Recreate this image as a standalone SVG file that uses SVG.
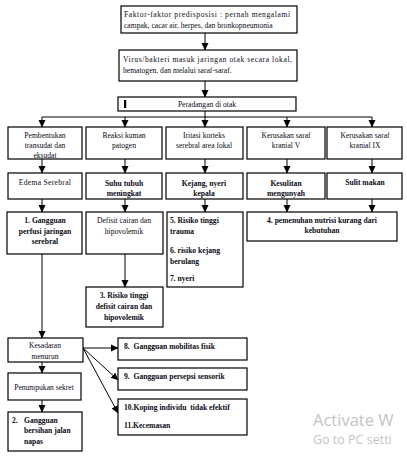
<svg xmlns="http://www.w3.org/2000/svg" width="407" height="459" viewBox="0 0 407 459">
<defs>
<marker id="ah" markerUnits="userSpaceOnUse" markerWidth="8" markerHeight="8" viewBox="0 0 8 8" refX="7" refY="4" orient="auto">
<path d="M0,0.5 L7.5,4 L0,7.5 Z" fill="#000"/>
</marker>
</defs>
<style>
.b{fill:#fff;stroke:#000;stroke-width:1.2}
.t{font-family:"Liberation Serif","Times New Roman",serif;font-size:7.6px;fill:#0a0a14}
.c{text-anchor:middle}
.w{font-weight:bold}
.k{stroke:#000;stroke-width:1;fill:none}
.a{stroke:#000;stroke-width:1;fill:none;marker-end:url(#ah)}
.wm{font-family:"Open Sans","Noto Sans",sans-serif;fill:#c4c4c4}
</style>
<rect width="407" height="459" fill="#fff"/>

<g id="connectors">
<line class="a" x1="205" y1="33" x2="205" y2="50"/>
<line class="a" x1="205" y1="81" x2="205" y2="97"/>
<line class="k" x1="205" y1="111" x2="205" y2="117"/>
<line class="k" x1="42" y1="117" x2="372" y2="117"/>
<line class="a" x1="42" y1="117" x2="42" y2="127"/>
<line class="a" x1="125" y1="117" x2="125" y2="127"/>
<line class="a" x1="205" y1="117" x2="205" y2="127"/>
<line class="a" x1="287" y1="117" x2="287" y2="127"/>
<line class="a" x1="372" y1="117" x2="372" y2="127"/>
<line class="a" x1="42" y1="159" x2="42" y2="173"/>
<line class="a" x1="125" y1="159" x2="125" y2="173"/>
<line class="a" x1="205" y1="159" x2="205" y2="173"/>
<line class="a" x1="287" y1="159" x2="287" y2="173"/>
<line class="a" x1="372" y1="159" x2="372" y2="173"/>
<line class="a" x1="42" y1="199" x2="42" y2="212"/>
<line class="a" x1="125" y1="199" x2="125" y2="212"/>
<line class="a" x1="205" y1="199" x2="205" y2="212"/>
<line class="a" x1="287" y1="199" x2="287" y2="212"/>
<line class="a" x1="372" y1="199" x2="372" y2="212"/>
<line class="a" x1="125" y1="254" x2="125" y2="287"/>
<line class="a" x1="42" y1="254" x2="42" y2="338"/>
<line class="a" x1="42" y1="362" x2="42" y2="373"/>
<line class="a" x1="42" y1="400" x2="42" y2="412"/>
<line class="a" x1="83" y1="348" x2="118" y2="348"/>
<line class="a" x1="83" y1="348" x2="118" y2="380"/>
<line class="a" x1="83" y1="348" x2="118" y2="413"/>
</g>

<g id="n-faktor">
<rect class="b" x="121" y="6" width="176" height="27"/>
<text class="t" x="124" y="17" textLength="166" lengthAdjust="spacing">Faktor-faktor predisposisi : pernah mengalami</text>
<text class="t" x="124" y="28">campak, cacar air, herpes, dan bronkopneumonia</text>
</g>
<g id="n-virus">
<rect class="b" x="119" y="50" width="178" height="31"/>
<text class="t" x="123" y="62" textLength="169" lengthAdjust="spacing">Virus/bakteri masuk jaringan otak secara lokal,</text>
<text class="t" x="123" y="73">hematogen, dan melalui saraf-saraf.</text>
</g>
<g id="n-peradangan">
<rect class="b" x="118" y="97" width="178" height="14"/>
<rect x="124" y="100" width="2.2" height="8" fill="#000"/>
<text class="t c" x="207" y="107">Peradangan di otak</text>
</g>

<g id="n-pembentukan">
<rect class="b" x="8" y="127" width="74" height="32"/>
<text class="t c" x="45" y="138">Pembentukan</text>
<text class="t c" x="45" y="148">transudat dan</text>
<text class="t c" x="45" y="158">eksudat</text>
</g>
<g id="n-reaksi">
<rect class="b" x="86" y="127" width="76" height="32"/>
<text class="t c" x="124" y="138">Reaksi kuman</text>
<text class="t c" x="124" y="148">patogen</text>
</g>
<g id="n-iritasi">
<rect class="b" x="166" y="127" width="77" height="32"/>
<text class="t c" x="204" y="138">Iritasi korteks</text>
<text class="t c" x="204" y="148">serebral area fokal</text>
</g>
<g id="n-kranial5">
<rect class="b" x="247" y="127" width="78" height="32"/>
<text class="t c" x="286" y="138">Kerusakan saraf</text>
<text class="t c" x="286" y="148">kranial V</text>
</g>
<g id="n-kranial9">
<rect class="b" x="327" y="127" width="75" height="32"/>
<text class="t c" x="365" y="138">Kerusakan saraf</text>
<text class="t c" x="365" y="148">kranial IX</text>
</g>

<g id="n-edema">
<rect class="b" x="8" y="173" width="74" height="26"/>
<text class="t c" x="45" y="185" letter-spacing="0.3">Edema Serebral</text>
</g>
<g id="n-suhu">
<rect class="b" x="86" y="173" width="76" height="26"/>
<text class="t c w" x="124" y="186">Suhu tubuh</text>
<text class="t c w" x="124" y="196">meningkat</text>
</g>
<g id="n-kejang">
<rect class="b" x="166" y="173" width="77" height="26"/>
<text class="t c w" x="204" y="186">Kejang, nyeri</text>
<text class="t c w" x="204" y="196">kepala</text>
</g>
<g id="n-kesulitan">
<rect class="b" x="247" y="173" width="78" height="26"/>
<text class="t c w" x="286" y="186">Kesulitan</text>
<text class="t c w" x="286" y="196">mengunyah</text>
</g>
<g id="n-sulit">
<rect class="b" x="327" y="173" width="75" height="26"/>
<text class="t c w" x="365" y="185">Sulit makan</text>
</g>

<g id="n-dx1">
<rect class="b" x="7" y="212" width="75" height="42"/>
<text class="t c w" x="45" y="223">1. Gangguan</text>
<text class="t c w" x="45" y="234">perfusi jaringan</text>
<text class="t c w" x="45" y="244">serebral</text>
</g>
<g id="n-defisit">
<rect class="b" x="86" y="212" width="77" height="42"/>
<text class="t c" x="124" y="223">Defisit cairan dan</text>
<text class="t c" x="124" y="234">hipovolemik</text>
</g>
<g id="n-dx567">
<rect class="b" x="167" y="212" width="76" height="75"/>
<text class="t w" x="170" y="223">5. Risiko tinggi</text>
<text class="t w" x="170" y="234">trauma</text>
<text class="t w" x="170" y="253">6. risiko kejang</text>
<text class="t w" x="170" y="264">berulang</text>
<text class="t w" x="170" y="281">7. nyeri</text>
</g>
<g id="n-dx4">
<rect class="b" x="247" y="212" width="150" height="29"/>
<text class="t c w" x="322" y="223">4. pemenuhan nutrisi kurang dari</text>
<text class="t c w" x="322" y="233">kebutuhan</text>
</g>
<g id="n-dx3">
<rect class="b" x="86" y="287" width="77" height="40"/>
<text class="t c w" x="124" y="298">3. Risiko tinggi</text>
<text class="t c w" x="124" y="309">defisit cairan dan</text>
<text class="t c w" x="124" y="320">hipovolemik</text>
</g>

<g id="n-kesadaran">
<rect class="b" x="8" y="338" width="75" height="24"/>
<text class="t c" x="45" y="348">Kesadaran</text>
<text class="t c" x="45" y="359">menurun</text>
</g>
<g id="n-penumpukan">
<rect class="b" x="8" y="373" width="73" height="27"/>
<text class="t c" x="44" y="390">Penumpukan sekret</text>
</g>
<g id="n-dx2">
<rect class="b" x="8" y="412" width="74" height="39"/>
<text class="t w" x="12" y="423">2.</text>
<text class="t w" x="24" y="423">Gangguan</text>
<text class="t w" x="24" y="433">bersihan jalan</text>
<text class="t w" x="24" y="444">napas</text>
</g>
<g id="n-dx8">
<rect class="b" x="118" y="338" width="129" height="22"/>
<text class="t w" x="124" y="349" xml:space="preserve">8.  Gangguan mobilitas fisik</text>
</g>
<g id="n-dx9">
<rect class="b" x="118" y="368" width="129" height="22"/>
<text class="t w" x="124" y="379" xml:space="preserve">9.  Gangguan persepsi sensorik</text>
</g>
<g id="n-dx1011">
<rect class="b" x="118" y="399" width="129" height="36"/>
<text class="t w" x="124" y="410" xml:space="preserve">10.Koping individu  tidak efektif</text>
<text class="t w" x="124" y="428">11.Kecemasan</text>
</g>

<text class="wm" x="313" y="426" font-size="16.5">Activate W</text>
<text class="wm" x="313" y="444" font-size="12.5">Go to PC setti</text>
</svg>
